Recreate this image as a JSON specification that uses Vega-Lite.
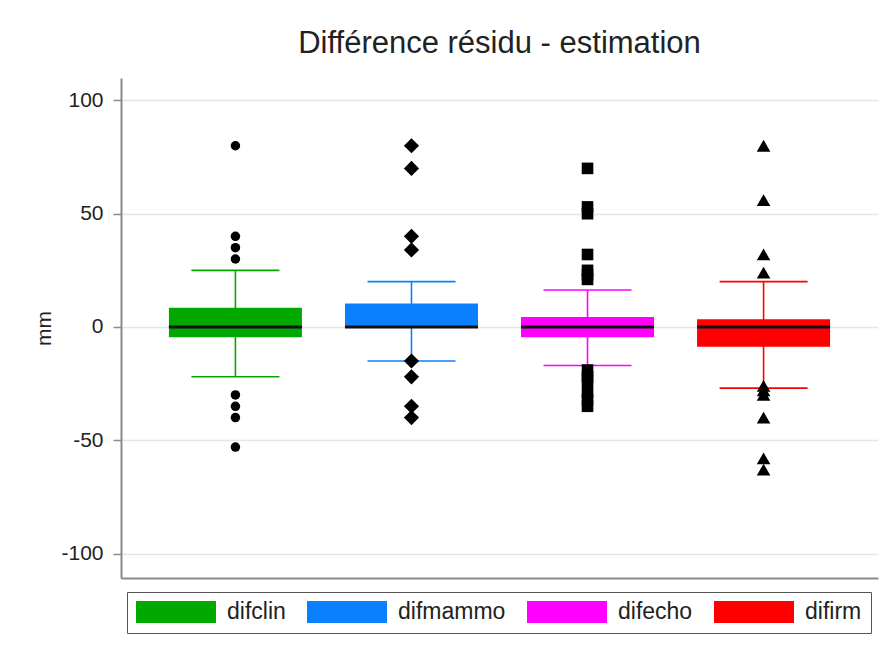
{
  "$schema": "https://vega.github.io/schema/vega-lite/v6.json",
  "width": 757,
  "height": 500,
  "autosize": {"type": "none"},
  "padding": {"left": 121, "top": 78, "right": 5, "bottom": 75},
  "background": "white",
  "config": {
    "view": {"stroke": null},
    "font": "Liberation Sans"
  },
  "title": {
    "text": "Différence résidu - estimation",
    "font": "Liberation Sans",
    "fontSize": 31,
    "fontWeight": "normal",
    "color": "#222222",
    "anchor": "middle",
    "offset": 18
  },
  "datasets": {
    "stats": [
      {"variable": "difclin", "lower": -22, "q1": -4.5, "median": 0, "q3": 8.5, "upper": 25},
      {"variable": "difmammo", "lower": -15, "q1": 0, "median": 0, "q3": 10.4, "upper": 20},
      {"variable": "difecho", "lower": -17, "q1": -4.5, "median": 0, "q3": 4.4, "upper": 16.3},
      {"variable": "difirm", "lower": -27, "q1": -8.7, "median": 0, "q3": 3.4, "upper": 20}
    ],
    "outliers": [
      {"variable": "difclin", "value": 80},
      {"variable": "difclin", "value": 40},
      {"variable": "difclin", "value": 35},
      {"variable": "difclin", "value": 30},
      {"variable": "difclin", "value": -30},
      {"variable": "difclin", "value": -35},
      {"variable": "difclin", "value": -40},
      {"variable": "difclin", "value": -53},
      {"variable": "difmammo", "value": 80},
      {"variable": "difmammo", "value": 70},
      {"variable": "difmammo", "value": 40},
      {"variable": "difmammo", "value": 34},
      {"variable": "difmammo", "value": -15},
      {"variable": "difmammo", "value": -22},
      {"variable": "difmammo", "value": -35},
      {"variable": "difmammo", "value": -40},
      {"variable": "difecho", "value": 70},
      {"variable": "difecho", "value": 53},
      {"variable": "difecho", "value": 50},
      {"variable": "difecho", "value": 32},
      {"variable": "difecho", "value": 25},
      {"variable": "difecho", "value": 23},
      {"variable": "difecho", "value": 21},
      {"variable": "difecho", "value": -19},
      {"variable": "difecho", "value": -22},
      {"variable": "difecho", "value": -24},
      {"variable": "difecho", "value": -29},
      {"variable": "difecho", "value": -32},
      {"variable": "difecho", "value": -35},
      {"variable": "difirm", "value": 80},
      {"variable": "difirm", "value": 56},
      {"variable": "difirm", "value": 32},
      {"variable": "difirm", "value": 24},
      {"variable": "difirm", "value": -26},
      {"variable": "difirm", "value": -28},
      {"variable": "difirm", "value": -30},
      {"variable": "difirm", "value": -40},
      {"variable": "difirm", "value": -58},
      {"variable": "difirm", "value": -63}
    ]
  },
  "encoding": {
    "x": {
      "field": "variable",
      "type": "nominal",
      "sort": ["difclin", "difmammo", "difecho", "difirm"],
      "scale": {"paddingInner": 0, "paddingOuter": 0.15},
      "axis": {
        "labels": false,
        "ticks": false,
        "title": null,
        "domain": true,
        "domainColor": "#8a8a8a",
        "domainWidth": 2,
        "grid": false
      }
    }
  },
  "layer": [
    {
      "data": {"name": "stats"},
      "mark": {"type": "rule", "strokeWidth": 1.6},
      "encoding": {
        "y": {
          "field": "lower",
          "type": "quantitative",
          "scale": {"domain": [-110.8, 109.9], "nice": false, "zero": false},
          "axis": {
            "values": [-100, -50, 0, 50, 100],
            "labelExpr": "'' + datum.value",
            "title": "mm",
            "titleFont": "Liberation Sans",
            "titleFontSize": 21,
            "titleFontWeight": "normal",
            "titleColor": "#222222",
            "titlePadding": 6,
            "labelFont": "Liberation Sans",
            "labelFontSize": 21,
            "labelColor": "#222222",
            "labelPadding": 10,
            "tickSize": 8,
            "tickColor": "#8a8a8a",
            "tickWidth": 1.5,
            "domainColor": "#8a8a8a",
            "domainWidth": 2,
            "grid": true,
            "gridColor": "#e6e6e6",
            "gridWidth": 1.5
          }
        },
        "y2": {"field": "upper"},
        "color": {"field": "variable", "type": "nominal"}
      }
    },
    {
      "data": {"name": "stats"},
      "mark": {"type": "bar", "size": 133, "opacity": 1},
      "encoding": {
        "y": {"field": "q1", "type": "quantitative"},
        "y2": {"field": "q3"},
        "color": {
          "field": "variable",
          "type": "nominal",
          "scale": {
            "domain": ["difclin", "difmammo", "difecho", "difirm"],
            "range": ["#00a800", "#0a80ff", "#ff00ff", "#ff0000"]
          },
          "legend": {
            "orient": "none",
            "legendX": 6,
            "legendY": 514,
            "direction": "horizontal",
            "title": null,
            "symbolType": "M-1,-0.275H1V0.275H-1Z",
            "symbolSize": 6400,
            "symbolStrokeWidth": 0,
            "symbolOpacity": 1,
            "clipHeight": 22,
            "labelFont": "Liberation Sans",
            "labelFontSize": 23,
            "labelColor": "#222222",
            "labelOffset": 11,
            "columnPadding": 21,
            "padding": 9,
            "strokeColor": "#555555",
            "fillColor": "white"
          }
        }
      }
    },
    {
      "data": {"name": "stats"},
      "mark": {"type": "tick", "size": 88, "thickness": 1.6, "opacity": 1},
      "encoding": {
        "y": {"field": "lower", "type": "quantitative"},
        "color": {"field": "variable", "type": "nominal"}
      }
    },
    {
      "data": {"name": "stats"},
      "mark": {"type": "tick", "size": 88, "thickness": 1.6, "opacity": 1},
      "encoding": {
        "y": {"field": "upper", "type": "quantitative"},
        "color": {"field": "variable", "type": "nominal"}
      }
    },
    {
      "data": {"name": "stats"},
      "mark": {"type": "tick", "size": 133, "thickness": 3, "color": "#111111", "opacity": 1},
      "encoding": {
        "y": {"field": "median", "type": "quantitative"}
      }
    },
    {
      "data": {"name": "outliers"},
      "transform": [{"filter": "datum.variable === 'difclin'"}],
      "mark": {"type": "point", "shape": "circle", "size": 90, "filled": true, "color": "#000000", "opacity": 1},
      "encoding": {"y": {"field": "value", "type": "quantitative"}}
    },
    {
      "data": {"name": "outliers"},
      "transform": [{"filter": "datum.variable === 'difmammo'"}],
      "mark": {"type": "point", "shape": "diamond", "size": 230, "filled": true, "color": "#000000", "opacity": 1},
      "encoding": {"y": {"field": "value", "type": "quantitative"}}
    },
    {
      "data": {"name": "outliers"},
      "transform": [{"filter": "datum.variable === 'difecho'"}],
      "mark": {"type": "point", "shape": "square", "size": 135, "filled": true, "color": "#000000", "opacity": 1},
      "encoding": {"y": {"field": "value", "type": "quantitative"}}
    },
    {
      "data": {"name": "outliers"},
      "transform": [{"filter": "datum.variable === 'difirm'"}],
      "mark": {"type": "point", "shape": "triangle-up", "size": 185, "filled": true, "color": "#000000", "opacity": 1},
      "encoding": {"y": {"field": "value", "type": "quantitative"}}
    }
  ]
}
